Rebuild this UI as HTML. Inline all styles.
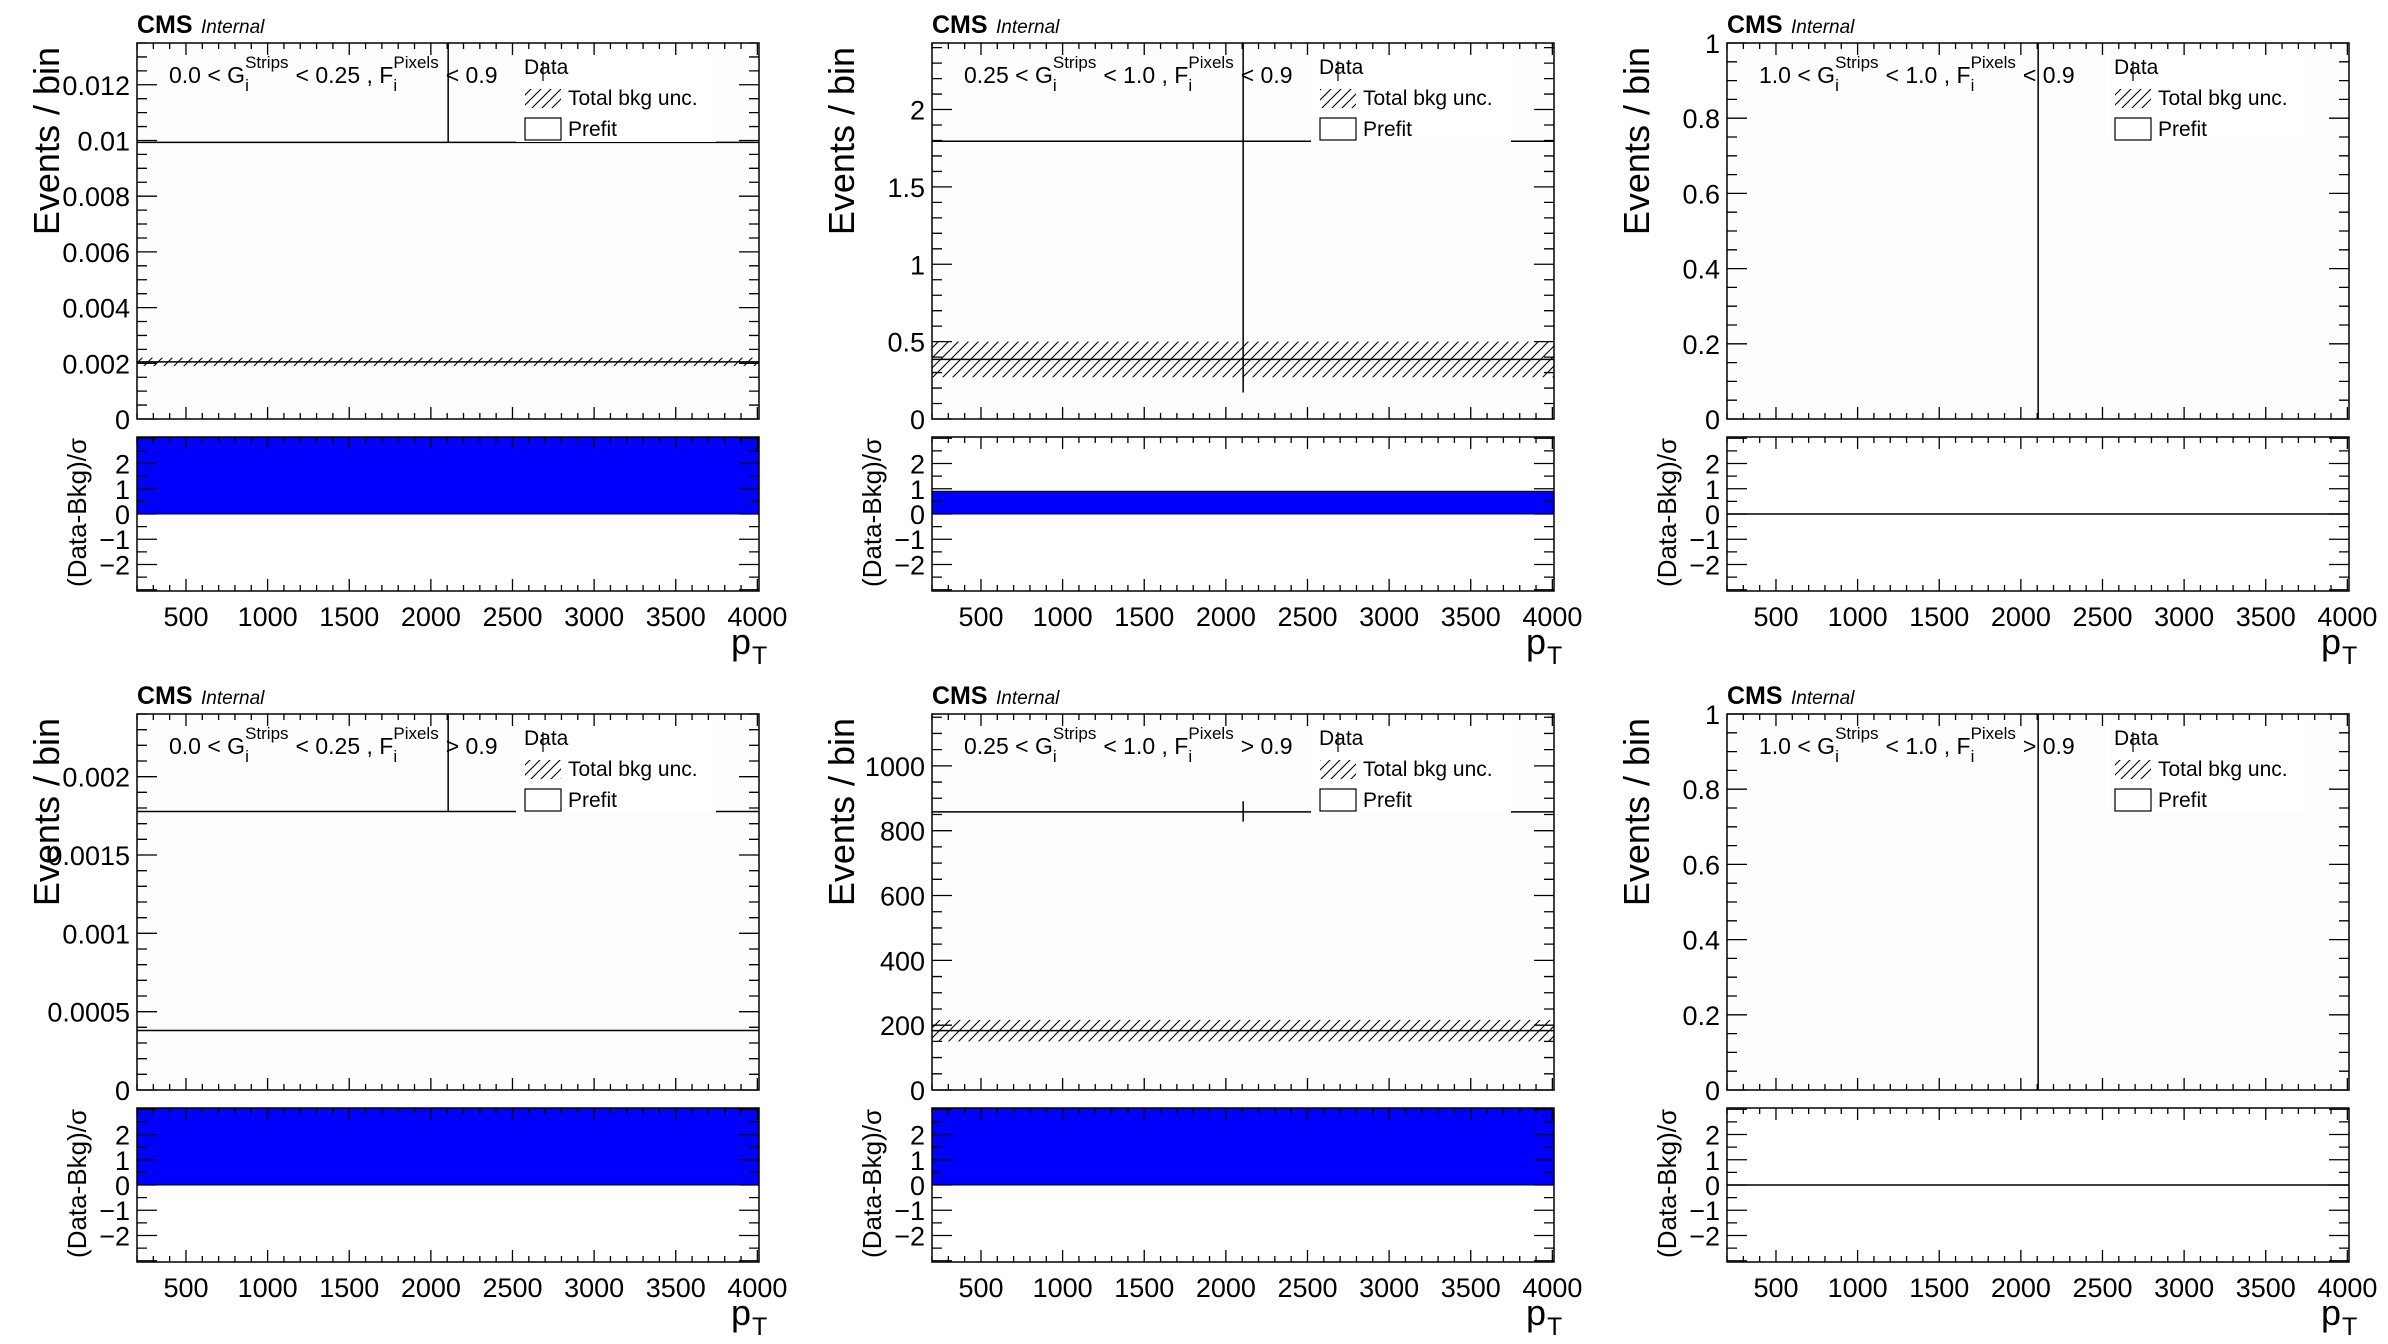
<!DOCTYPE html>
<html><head><meta charset="utf-8"><title>CMS pT fit panels</title>
<style>
html,body{margin:0;padding:0;background:#fff;}
svg{display:block;font-family:"Liberation Sans",Arial,sans-serif;}
</style></head>
<body>
<svg id="chart" xmlns="http://www.w3.org/2000/svg" width="2388" height="1344" viewBox="0 0 2388 1344">
<defs>
<pattern id="hatch" patternUnits="userSpaceOnUse" width="10" height="10">
<path d="M-2,12 L12,-2 M-2,2 L2,-2 M8,12 L12,8" stroke="#000" stroke-width="1.1"/>
</pattern>
</defs>
<rect x="0" y="0" width="2388" height="1344" fill="#fff"/>
</svg>
<script>
// ---- data (one entry per panel) ----
const xMin = 200;
const xMax = 4010;
const xTickLabels = ["500","1000","1500","2000","2500","3000","3500","4000"];
const labelLeft = ["0.0 < G","0.25 < G","1.0 < G","0.0 < G","0.25 < G","1.0 < G"];
const labelMid = ["< 0.25 , F","< 1.0 , F","< 1.0 , F","< 0.25 , F","< 1.0 , F","< 1.0 , F"];
const labelEnd = ["< 0.9","< 0.9","< 0.9","> 0.9","> 0.9","> 0.9"];
const yMax = [0.0135, 2.43, 1, 0.0024, 1160, 1];
const yMajor = [0.002, 0.5, 0.2, 0.0005, 200, 0.2];
const yMinorDiv = [4, 5, 4, 5, 4, 4];
const prefit = [0.00993, 1.795, null, 0.001778, 858, null];
const bkg = [0.00205, 0.385, null, 0.00038, 183, null];
const bkgUnc = [0.00015, 0.115, 0, 0, 33, 0];
const dataX = [2106, 2106, 2106, 2106, 2106, 2106];
const dataLow = [0.00993, 0.171, 0, 0.001778, 828, 0];
const dataHigh = [0.05, 5, 5, 0.01, 891, 5];
const pull = [5, 0.9, 0, 5, 5, 0];

// ---- layout ----
const colL = [137, 932, 1727];
const rowT = [43, 714];
const W = 622, H = 376, RGAP = 18, RH = 154;
const rMin = -3.05, rMax = 3.05;
const NS = "http://www.w3.org/2000/svg";
const svg = document.getElementById('chart');

function mk(tag, attrs, parent){
  const e = document.createElementNS(NS, tag);
  for (const k in attrs) e.setAttribute(k, attrs[k]);
  (parent||svg).appendChild(e);
  return e;
}
function fmt(v){ return String(Number(v.toFixed(6))); }

for (let p = 0; p < 6; p++){
  const L = colL[p % 3], T = rowT[Math.floor(p / 3)];
  const RT = T + H + RGAP;
  const xs = v => L + (v - xMin) / (xMax - xMin) * W;
  const ys = v => T + H - v / yMax[p] * H;
  const yr = v => RT + (rMax - v) / (rMax - rMin) * RH;

  const g = mk('g', {});
  
  

  const clip = mk('clipPath', {id: 'clip' + p}, g);
  mk('rect', {x: L, y: T, width: W, height: H}, clip);
  const clipR = mk('clipPath', {id: 'clipr' + p}, g);
  mk('rect', {x: L, y: RT, width: W, height: RH}, clipR);

  mk('rect', {x: L, y: T, width: W, height: H, fill: '#fdfdfd'}, g);

  // main content
  const mg = mk('g', {'clip-path': 'url(#clip' + p + ')'}, g);
  if (bkg[p] !== null){
    if (bkgUnc[p] > 0){
      const band = mk('rect', {x: L, y: ys(bkg[p] + bkgUnc[p]), width: W, height: ys(bkg[p] - bkgUnc[p]) - ys(bkg[p] + bkgUnc[p]), fill: 'url(#hatch)'}, mg);
      
      
    }
    const bl = mk('line', {x1: L, x2: L + W, y1: ys(bkg[p]), y2: ys(bkg[p]), stroke: '#000', 'stroke-width': 1.5}, mg);
    
    
  }
  if (prefit[p] !== null){
    const pl = mk('line', {x1: L, x2: L + W, y1: ys(prefit[p]), y2: ys(prefit[p]), stroke: '#000', 'stroke-width': 1.5}, mg);
    
    
  }
  const dl = mk('line', {x1: xs(dataX[p]), x2: xs(dataX[p]), y1: ys(dataLow[p]), y2: ys(dataHigh[p]), stroke: '#000', 'stroke-width': 1.5}, mg);
  
  

  // legend (white box hides lines)
  const lg = mk('g', {}, g);
  
  
  mk('rect', {x: L + 379, y: T + 4, width: 200, height: 95, fill: '#fff'}, lg);
  const ld = mk('text', {x: L + 387, y: T + 31, 'font-size': 21}, lg);
  ld.textContent = 'Data';
  
  
  mk('line', {x1: L + 406, x2: L + 406, y1: T + 18, y2: T + 38, stroke: '#000', 'stroke-width': 1.2}, lg);
  mk('rect', {x: L + 388, y: T + 46, width: 36, height: 19, fill: 'url(#hatch)'}, lg);
  const lt = mk('text', {x: L + 431, y: T + 62, 'font-size': 21}, lg);
  lt.textContent = 'Total bkg unc.';
  
  
  mk('rect', {x: L + 388, y: T + 75, width: 36, height: 22, fill: '#fff', stroke: '#000', 'stroke-width': 1.2}, lg);
  const lp = mk('text', {x: L + 431, y: T + 93, 'font-size': 21}, lg);
  lp.textContent = 'Prefit';
  
  

  // ratio
  const rg = mk('g', {'clip-path': 'url(#clipr' + p + ')'}, g);
  if (pull[p] !== 0){
    const top = Math.min(pull[p], 0), bot = Math.max(pull[p], 0);
    const pb = mk('rect', {x: L, y: yr(bot), width: W, height: yr(top) - yr(bot), fill: '#0000ff', stroke: '#000', 'stroke-width': 1}, rg);
    
    
  } else {
    const pz = mk('line', {x1: L, x2: L + W, y1: yr(0), y2: yr(0), stroke: '#000', 'stroke-width': 1.5}, rg);
    
    
  }

  // frames
  const f1 = mk('rect', {x: L, y: T, width: W, height: H, fill: 'none', stroke: '#000', 'stroke-width': 1.5}, g);
  
  
  const f2 = mk('rect', {x: L, y: RT, width: W, height: RH, fill: 'none', stroke: '#000', 'stroke-width': 1.5}, g);
  
  

  // x ticks
  let d = '';
  for (let v = 200; v <= xMax; v += 100){
    const X = xs(v), major = v % 500 === 0;
    const lm = major ? 12 : 6, lr = major ? 12 : 6;
    d += `M${X},${T+H}v${-lm}M${X},${T}v${lm}M${X},${RT+RH}v${-lr}M${X},${RT}v${lr}`;
  }
  const minorStep = yMajor[p] / yMinorDiv[p];
  for (let k = 0; k * minorStep <= yMax[p] * 1.0001; k++){
    const Y = ys(k * minorStep), major = k % yMinorDiv[p] === 0;
    const len = major ? 20 : 10;
    d += `M${L},${Y}h${len}M${L+W},${Y}h${-len}`;
  }
  for (let v = -3; v <= 3; v += 0.5){
    const Y = yr(v), major = Number.isInteger(v);
    const len = major ? 20 : 10;
    d += `M${L},${Y}h${len}M${L+W},${Y}h${-len}`;
  }
  const tk = mk('path', {d: d, stroke: '#000', 'stroke-width': 1.3, fill: 'none'}, g);
  
  

  // x tick labels
  xTickLabels.forEach(s => {
    const t = mk('text', {x: xs(Number(s)), y: RT + RH + 35, 'font-size': 27, 'text-anchor': 'middle'}, g);
    t.textContent = s;
    
    
  });
  for (let k = 0; k * yMajor[p] <= yMax[p] * 1.0001; k++){
    const v = k * yMajor[p];
    const t = mk('text', {x: L - 7, y: ys(v) + 10, 'font-size': 27, 'text-anchor': 'end'}, g);
    t.textContent = fmt(v);
    
    
  }
  for (let v = -2; v <= 2; v++){
    const t = mk('text', {x: L - 7, y: yr(v) + 10, 'font-size': 27, 'text-anchor': 'end'}, g);
    t.textContent = v < 0 ? '\u2212' + (-v) : String(v);
    
    
  }
  const yt = mk('text', {x: 0, y: 0, 'font-size': 36, 'text-anchor': 'end', transform: `translate(${L-78},${T+4}) rotate(-90)`}, g);
  yt.textContent = 'Events / bin';
  
  
  const rtt = mk('text', {x: 0, y: 0, 'font-size': 26, 'text-anchor': 'end', transform: `translate(${L-51},${RT+1}) rotate(-90)`}, g);
  rtt.textContent = '(Data-Bkg)/\u03c3';
  
  
  const xt = mk('text', {x: L + W - 28, y: RT + RH + 63, 'font-size': 36}, g);
  
  
  xt.textContent = 'p';
  mk('tspan', {dx: 1, dy: 10, 'font-size': 25}, xt).textContent = 'T';

  const cms = mk('text', {x: L, y: T - 10, 'font-size': 25, 'font-weight': 'bold'}, g);
  cms.textContent = 'CMS';
  
  
  const intl = mk('text', {x: L + 64, y: T - 10, 'font-size': 19, 'font-style': 'italic'}, g);
  intl.textContent = 'Internal';
  
  

  const lab = mk('g', {}, g);
  
  
  let cx = L + 32;
  const by = T + 40;
  const put = (s, x, y, fs) => { const t = mk('text', {x: x, y: y, 'font-size': fs}, lab); t.textContent = s; return t.getComputedTextLength(); };
  cx += put(labelLeft[p], cx, by, 23);
  const w1 = put('Strips', cx, by - 15, 17);
  const w2 = put('i', cx, by + 8, 17);
  cx += Math.max(w1, w2) + 7;
  cx += put(labelMid[p], cx, by, 23);
  const w3 = put('Pixels', cx, by - 15, 17);
  const w4 = put('i', cx, by + 8, 17);
  cx += Math.max(w3, w4) + 7;
  put(labelEnd[p], cx, by, 23);
}
</script>
</body></html>
